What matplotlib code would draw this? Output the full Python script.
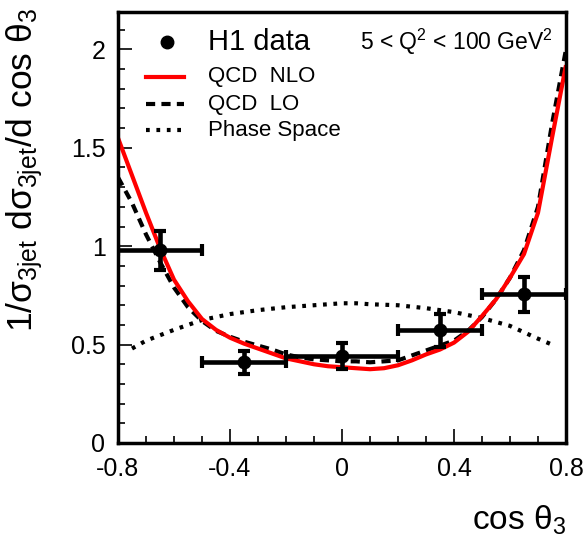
import matplotlib
matplotlib.use("Agg")
import matplotlib.pyplot as plt
from matplotlib.ticker import MultipleLocator
from matplotlib.lines import Line2D

plt.rcParams["font.family"] = ["Liberation Sans", "DejaVu Sans"]
plt.rcParams["mathtext.default"] = "regular"

# H1 data points: bin centres, half bin widths, values, errors
data_x = [-0.65, -0.35, 0.0, 0.35, 0.65]
data_xerr = [0.15, 0.15, 0.2, 0.15, 0.15]
data_y = [0.98, 0.41, 0.44, 0.575, 0.755]
data_yerr_lo = [0.10, 0.06, 0.065, 0.085, 0.09]
data_yerr_hi = [0.095, 0.06, 0.07, 0.08, 0.09]

# theory curves
curve_x = [-0.80, -0.75, -0.70, -0.65, -0.60, -0.55, -0.50, -0.45, -0.40,
           -0.35, -0.30, -0.25, -0.20, -0.15, -0.10, -0.05, 0.00, 0.05,
           0.10, 0.15, 0.20, 0.25, 0.30, 0.35, 0.40, 0.45, 0.50, 0.55,
           0.60, 0.65, 0.70, 0.75, 0.80]
nlo_y = [1.55, 1.36, 1.17, 0.99, 0.83, 0.72, 0.63, 0.575, 0.535,
         0.505, 0.48, 0.455, 0.43, 0.415, 0.40, 0.39, 0.385, 0.38,
         0.375, 0.38, 0.395, 0.42, 0.45, 0.475, 0.51, 0.565, 0.645, 0.73,
         0.84, 0.96, 1.17, 1.55, 1.92]
lo_y = [1.35, 1.22, 1.06, 0.92, 0.79, 0.69, 0.62, 0.57, 0.54,
        0.515, 0.495, 0.475, 0.45, 0.435, 0.425, 0.42, 0.415, 0.415,
        0.41, 0.415, 0.42, 0.445, 0.47, 0.495, 0.52, 0.57, 0.64, 0.73,
        0.84, 0.98, 1.20, 1.62, 2.00]
ps_x = [-0.75, -0.70, -0.60, -0.50, -0.40, -0.30, -0.20, -0.10, 0.00,
        0.05, 0.10, 0.20, 0.30, 0.40, 0.50, 0.60, 0.70, 0.75]
ps_y = [0.48, 0.52, 0.575, 0.625, 0.655, 0.675, 0.69, 0.70, 0.71,
        0.71, 0.705, 0.70, 0.685, 0.665, 0.635, 0.595, 0.53, 0.50]

fig = plt.figure(figsize=(5.84, 5.41), dpi=100)
ax = fig.add_axes([118 / 584, 98 / 541, 448 / 584, 431 / 541])

ax.plot(ps_x, ps_y, color="black", lw=3, linestyle=(0, (0.9, 1.6)))
ax.plot(curve_x, lo_y, color="black", lw=3, linestyle=(0, (2.2, 1.5)))
ax.plot(curve_x, nlo_y, color="red", lw=3, solid_capstyle="butt")
ax.errorbar(data_x, data_y, xerr=data_xerr,
            yerr=[data_yerr_lo, data_yerr_hi], fmt="o", color="black",
            ms=9, elinewidth=3.3, capsize=4, capthick=3, zorder=5)

ax.set_xlim(-0.8, 0.8)
ax.set_ylim(0, 2.19)
ax.xaxis.set_major_locator(MultipleLocator(0.4))
ax.xaxis.set_minor_locator(MultipleLocator(0.1))
ax.yaxis.set_major_locator(MultipleLocator(0.5))
ax.yaxis.set_minor_locator(MultipleLocator(0.1))
ax.tick_params(which="both", direction="in", top=False, right=False,
               width=1.2, labelsize=18)
ax.tick_params(which="major", length=10)
ax.tick_params(which="minor", length=5)
ax.tick_params(axis="y", pad=9)
ax.tick_params(axis="x", pad=10)
ax.xaxis.set_major_formatter(plt.FuncFormatter(
    lambda v, p: "0" if abs(v) < 1e-9 else f"{v:.1f}"))
ax.yaxis.set_major_formatter(plt.FuncFormatter(
    lambda v, p: "0" if abs(v) < 1e-9 else ("%g" % v)))
for s in ax.spines.values():
    s.set_linewidth(2.5)

# legend drawn by hand
ax.plot([-0.625], [2.04], "o", color="black", ms=9)
legend_lines = [
    ("red", "-", 1.86, "QCD  NLO"),
    ("black", (0, (2.2, 1.5)), 1.72, "QCD  LO"),
    ("black", (0, (0.9, 1.6)), 1.59, "Phase Space"),
]
for col, ls, yy, lab in legend_lines:
    ax.add_line(Line2D([-0.7, -0.565], [yy, yy], color=col, lw=3, linestyle=ls))
    ax.text(-0.48, yy, lab, fontsize=16, va="center", ha="left")
ax.text(-0.48, 2.04, "H1 data", fontsize=21, va="center", ha="left")
ax.text(0.754, 2.04, r"5 < $Q^2$ < 100 Ge$V^2$", fontsize=16.5,
        va="center", ha="right")

fig.text(25 / 584, 1 - 8 / 541, r"1/$σ_{3jet}$ d$σ_{3jet}$/d cos $θ_3$",
         rotation=90, fontsize=25.5, ha="center", va="top")
fig.text(566 / 584, 1 - 520 / 541, r"cos $θ_3$", fontsize=24,
         ha="right", va="center")

fig.savefig("out.png", dpi=100)
